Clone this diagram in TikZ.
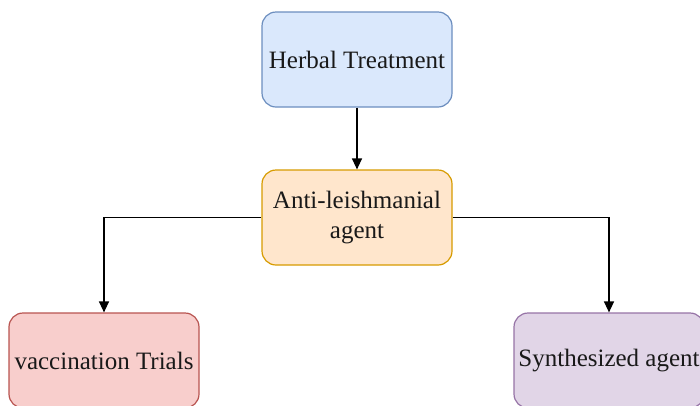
\documentclass[tikz,border=0pt]{standalone}
\usepackage{fontspec}
\setmainfont{Liberation Serif}
\usetikzlibrary{arrows.meta}
\definecolor{bluef}{HTML}{DAE8FC}\definecolor{blued}{HTML}{6C8EBF}
\definecolor{orangef}{HTML}{FFE6CC}\definecolor{oranged}{HTML}{D79B00}
\definecolor{redf}{HTML}{F8CECC}\definecolor{redd}{HTML}{B85450}
\definecolor{purplef}{HTML}{E1D5E7}\definecolor{purpled}{HTML}{9673A6}
\tikzset{
  box/.style={rectangle, rounded corners=14pt, minimum width=190pt, minimum height=95pt,
    line width=1.2pt, align=center, inner sep=0pt,
    font=\fontsize{25}{30}\selectfont, text=black!90},
  conn/.style={line width=1.3pt, -{Triangle[length=11pt,width=10pt]}}
}
\begin{document}
\begin{tikzpicture}[x=1pt,y=-1pt]
\useasboundingbox (0,0) rectangle (700,405);
\clip (0,0) rectangle (700,405);
\node[box, fill=bluef, draw=blued] (herbal) at (357,59.5) {Herbal Treatment};
\node[box, fill=orangef, draw=oranged] (anti) at (357,217.5) {Anti-leishmanial\\agent};
\node[box, fill=redf, draw=redd] (vacc) at (104,360.5) {vaccination Trials};
\node[box, fill=purplef, draw=purpled] (synth) at (609,360.5) {Synthesized agent};
\draw[conn] (herbal) -- (anti);
\draw[conn] (anti.west) -| (vacc.north);
\draw[conn] (anti.east) -| (synth.north);
\end{tikzpicture}
\end{document}
